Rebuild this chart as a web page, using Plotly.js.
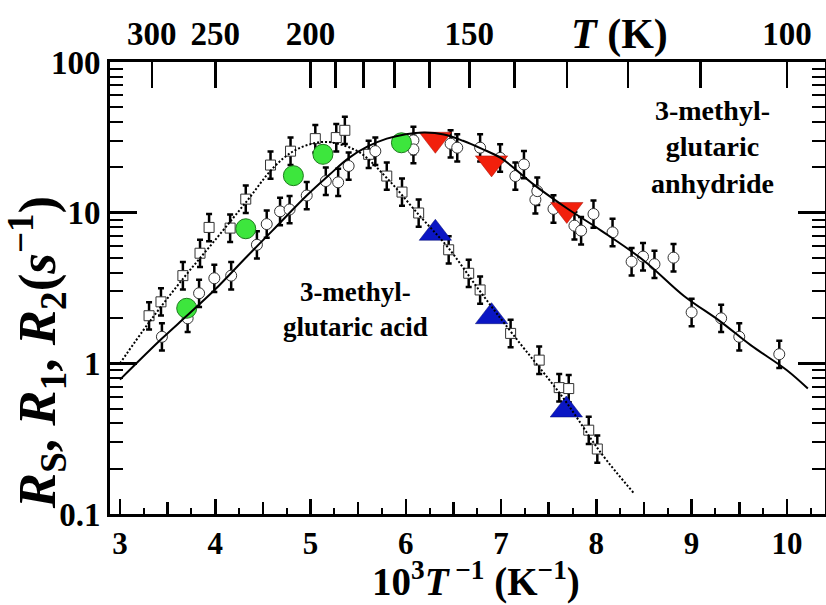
<!DOCTYPE html>
<html>
<head>
<meta charset="utf-8">
<script src="https://cdn.plot.ly/plotly-3.0.1.min.js"></script>
<style>html,body{margin:0;padding:0;background:#fff;}#chart{width:826px;height:605px;}</style>
</head>
<body>
<div id="chart"></div>
<script>
// ---- data (x = 1000/T in K^-1, y = rate in s^-1) ----
const sqX = [3.305,3.43,3.66,3.84,3.935,4.156,4.32,4.58,4.79,5.05,5.27,5.36,5.61,5.80,5.96,6.135,6.45,6.66,6.78,7.10,7.40,7.61,7.71,7.92,8.01];
const sqY = [2.07,2.56,3.82,5.38,7.98,7.9,12.3,20.7,25.6,31,31.5,35.2,24.4,17.5,13.7,9.95,5.67,3.96,3.07,1.58,1.05,0.69,0.68,0.36,0.27];

const ciX = [3.44,3.71,3.83,3.99,4.167,4.437,4.54,4.68,4.78,4.96,5.16,5.29,5.40,5.68,6.08,6.08,6.47,6.54,6.78,6.99,7.15,7.24,7.36,7.38,7.55,7.77,7.84,7.97,8.17,8.37,8.49,8.61,8.81,9.00,9.31,9.50,9.92];
const ciY = [1.50,1.99,2.92,3.67,3.82,6.12,8.4,10.2,10.5,13.0,16.2,15.9,20.4,25.6,30.2,26.3,28.7,27.0,27.0,23.1,17.5,20.9,12.2,13.9,10.6,8.2,7.6,9.8,7.4,4.73,5.11,4.55,5.03,2.18,1.99,1.50,1.15];

const greenX = [3.70,4.32,4.82,5.13,5.954];
const greenY = [2.32,7.82,17.6,24.4,29.1];

const redX = [6.31,6.90,7.69];
const redY = [30.7,21.4,10.5];

const blueX = [6.31,6.90,7.685];
const blueY = [7.3,2.04,0.49];

// fitted curves
const acidX = [3.0,3.3,3.665,4.0,4.33,4.61,4.82,5.0,5.15,5.3,5.52,5.8,6.135,6.45,6.78,7.13,7.66,8.045,8.4];
const acidY = [1.0,1.85,3.67,6.6,11.9,19.9,25.6,28.5,29.5,28.5,25.0,17.0,9.7,5.8,3.0,1.54,0.58,0.256,0.136];

const anhX = [3.0,3.44,3.71,4.0,4.33,4.6,4.96,5.2,5.4,5.6,5.8,6.0,6.2,6.4,6.6,6.8,7.0,7.34,7.69,8.05,8.5,8.92,9.3,9.62,10.0,10.22];
const anhY = [0.78,1.46,2.09,3.1,5.1,7.6,13.0,17.9,23,27.5,31,33.2,34,33,30,26.5,23,15.4,10.7,7.6,4.8,2.8,1.9,1.32,0.9,0.68];

// axis ticks
const xLabelVals = [3,4,5,6,7,8,9,10];
const xHalfVals = [3.5,4.5,5.5,6.5,7.5,8.5,9.5];
const topLabelT = [300,250,200,150,100];
const topMinorT = [190,180,170,160,140,130,120,110];

// ---- styling ----
const FONT = 'Liberation Serif, Times New Roman, serif';
const tickFont = {family: FONT, size: 33, color: '#000', weight: 700};
const xTickFont = {family: FONT, size: 31, color: '#000', weight: 700};
const errStyle = {type: 'percent', symmetric: false, value: 23, valueminus: 19, thickness: 2.5, width: 3, color: '#000'};
const xRange = [2.895, 10.4];

const helper = (xa) => ({x: anhX, y: anhY, xaxis: xa, yaxis: 'y', mode: 'none', hoverinfo: 'skip', showlegend: false});

const traces = [
  helper('x2'), helper('x3'), helper('x4'),
  {x: sqX, y: sqY, mode: 'markers', marker: {symbol: 'square', size: 10, color: '#fff', line: {color: '#333', width: 1}}, error_y: errStyle},
  {x: ciX, y: ciY, mode: 'markers', marker: {symbol: 'circle', size: 11, color: '#fff', line: {color: '#333', width: 1}}, error_y: errStyle},
  {x: greenX, y: greenY, mode: 'markers', marker: {symbol: 'circle', size: 20, color: '#3de63d', line: {color: '#1c7a1c', width: 1}}},
  {x: redX, y: redY, mode: 'markers', marker: {symbol: 'triangle-down', size: 28, color: '#f2200c', line: {color: '#a01008', width: 0.5}}},
  {x: blueX, y: blueY, mode: 'markers', marker: {symbol: 'triangle-up', size: 28, color: '#0a16c4', line: {color: '#000a70', width: 0.5}}},
  {x: acidX, y: acidY, mode: 'lines', line: {color: '#000', width: 2, dash: '2px,2px', shape: 'spline'}},
  {x: anhX, y: anhY, mode: 'lines', line: {color: '#000', width: 2, shape: 'spline'}}
];

const noGrid = {showgrid: false, zeroline: false};

const layout = {
  width: 826, height: 605,
  margin: {l: 110, r: 1, t: 62, b: 91},
  paper_bgcolor: '#fff', plot_bgcolor: '#fff',
  showlegend: false,
  hovermode: false,
  xaxis: Object.assign({
    range: xRange, tickmode: 'array', tickvals: xLabelVals,
    ticks: 'inside', ticklen: 15, tickwidth: 2.5, tickcolor: '#000',
    showline: true, linewidth: 3, linecolor: '#000', mirror: true,
    tickfont: xTickFont, ticklabelstandoff: 0,
    minor: {ticks: 'inside', ticklen: 6, tickwidth: 2, tickcolor: '#000', dtick: 0.25, tick0: 3, showgrid: false}
  }, noGrid),
  xaxis3: Object.assign({
    overlaying: 'x', side: 'bottom', anchor: 'y', range: xRange,
    tickmode: 'array', tickvals: xHalfVals, showticklabels: false,
    ticks: 'inside', ticklen: 12, tickwidth: 2.5, tickcolor: '#000', showline: false
  }, noGrid),
  xaxis2: Object.assign({
    overlaying: 'x', side: 'top', anchor: 'y', range: xRange,
    tickmode: 'array', tickvals: topLabelT.map(t => 1000 / t), ticktext: topLabelT.map(String),
    ticks: 'inside', ticklen: 26, tickwidth: 2.5, tickcolor: '#000',
    showline: false, tickfont: tickFont, ticklabelstandoff: 9
  }, noGrid),
  xaxis4: Object.assign({
    overlaying: 'x', side: 'top', anchor: 'y', range: xRange,
    tickmode: 'array', tickvals: topMinorT.map(t => 1000 / t), showticklabels: false,
    ticks: 'inside', ticklen: 26, tickwidth: 2.5, tickcolor: '#000', showline: false
  }, noGrid),
  yaxis: Object.assign({
    type: 'log', range: [-1, 2], dtick: 1,
    ticks: 'inside', ticklen: 27, tickwidth: 2.5, tickcolor: '#000',
    showline: true, linewidth: 3, linecolor: '#000', mirror: 'ticks',
    tickfont: tickFont,
    minor: {ticks: 'inside', ticklen: 13, tickwidth: 2, tickcolor: '#000', dtick: 'D1', showgrid: false}
  }, noGrid),
  annotations: [
    {xref: 'paper', yref: 'paper', x: -0.102, y: 0.356, xanchor: 'center', yanchor: 'middle', textangle: -90, showarrow: false,
     text: '<b><i>R</i><sub>S</sub>, <i>R</i><sub>1</sub>, <i>R</i><sub>2</sub>(<i>s</i><sup>−1</sup>)</b>',
     font: {family: FONT, size: 53, color: '#000'}},
    {xref: 'paper', yref: 'paper', x: 0.512, y: -0.203, xanchor: 'center', yanchor: 'bottom', showarrow: false,
     text: '<b>10<sup>3</sup><i>T</i><sup> −1</sup> (K<sup>−1</sup>)</b>',
     font: {family: FONT, size: 39, color: '#000'}},
    {xref: 'paper', yref: 'paper', x: 0.713, y: 1.06, xanchor: 'center', yanchor: 'middle', showarrow: false,
     text: '<b><i>T</i> (K)</b>',
     font: {family: FONT, size: 42, color: '#000'}},
    {xref: 'x', yref: 'y', x: 5.47, y: 0.36, xanchor: 'center', yanchor: 'middle', showarrow: false,
     text: '<b>3-methyl-<br>glutaric acid</b>',
     font: {family: FONT, size: 27, color: '#000'}},
    {xref: 'x', yref: 'y', x: 9.22, y: 1.434, xanchor: 'center', yanchor: 'middle', showarrow: false,
     text: '<b>3-methyl-<br>glutaric<br>anhydride</b>',
     font: {family: FONT, size: 28, color: '#000'}}
  ]
};

Plotly.newPlot('chart', traces, layout, {staticPlot: true, displayModeBar: false});
</script>
</body>
</html>
